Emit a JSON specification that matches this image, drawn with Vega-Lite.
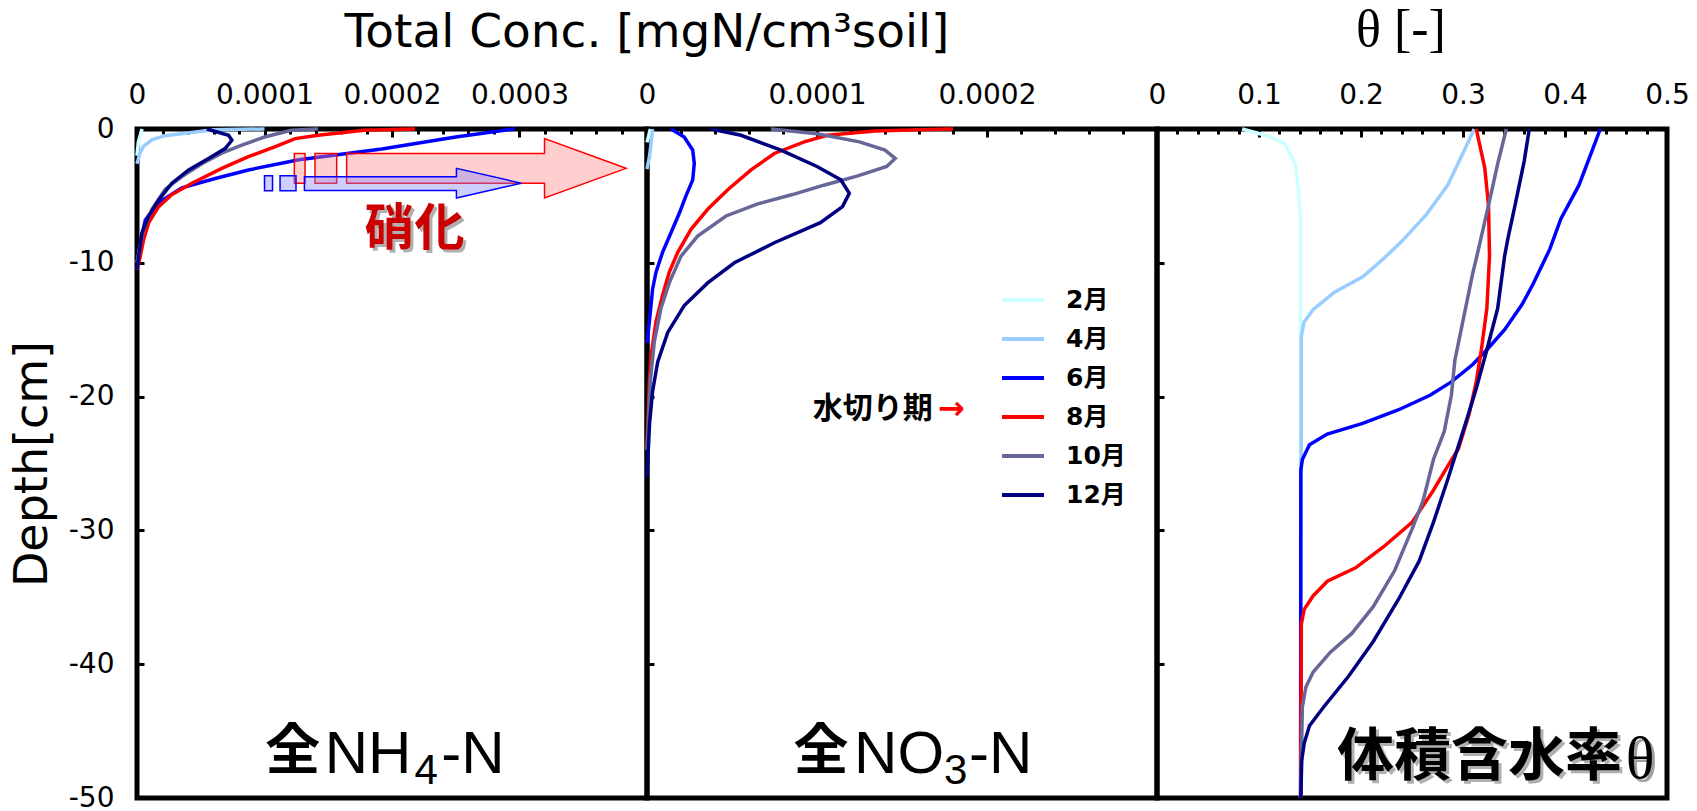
{
  "$schema": "https://vega.github.io/schema/vega-lite/v6.json",
  "background": "white",
  "padding": {"left": 6, "top": 1, "right": 5, "bottom": 0},
  "spacing": 0,
  "bounds": "flush",
  "config": {
    "view": {"stroke": "black", "strokeWidth": 5},
    "axis": {"grid": false, "domain": false, "tickColor": "black", "tickWidth": 3, "labelColor": "black", "labelFont": "DejaVu Sans", "labelFontSize": 28, "labelFlush": false, "labelOverlap": false, "titleColor": "black"},
    "title": {"color": "black", "fontWeight": "normal"}
  },
  "datasets": {
    "nh4": [
      {"month": "2月", "depth": 0, "conc": 0.000004}, {"month": "2月", "depth": -1, "conc": 0.000001}, {"month": "2月", "depth": -2, "conc": 0},
      {"month": "4月", "depth": 0, "conc": 0.0001}, {"month": "4月", "depth": -0.05, "conc": 0.00006}, {"month": "4月", "depth": -0.35, "conc": 0.000035}, {"month": "4月", "depth": -0.5, "conc": 0.000022}, {"month": "4月", "depth": -0.8, "conc": 0.000012}, {"month": "4月", "depth": -1.3, "conc": 0.000005}, {"month": "4月", "depth": -1.8, "conc": 0.0000023}, {"month": "4月", "depth": -2.6, "conc": 0},
      {"month": "6月", "depth": 0, "conc": 0.000296}, {"month": "6月", "depth": -0.6, "conc": 0.00025}, {"month": "6月", "depth": -1.5, "conc": 0.000192}, {"month": "6月", "depth": -2.3, "conc": 0.000127}, {"month": "6月", "depth": -3.06, "conc": 0.0000874}, {"month": "6月", "depth": -3.7, "conc": 0.0000613}, {"month": "6月", "depth": -4.4, "conc": 0.0000352}, {"month": "6月", "depth": -5.5, "conc": 0.000017}, {"month": "6月", "depth": -6.8, "conc": 0.0000065}, {"month": "6月", "depth": -8.5, "conc": 0.0000026}, {"month": "6月", "depth": -10, "conc": 0},
      {"month": "8月", "depth": 0, "conc": 0.000218}, {"month": "8月", "depth": -0.1, "conc": 0.000178}, {"month": "8月", "depth": -0.47, "conc": 0.000142}, {"month": "8月", "depth": -0.72, "conc": 0.000124}, {"month": "8月", "depth": -1.33, "conc": 0.000108}, {"month": "8月", "depth": -2.07, "conc": 0.0000874}, {"month": "8月", "depth": -2.94, "conc": 0.0000665}, {"month": "8月", "depth": -4.05, "conc": 0.0000431}, {"month": "8月", "depth": -4.9, "conc": 0.0000274}, {"month": "8月", "depth": -5.8, "conc": 0.000017}, {"month": "8月", "depth": -7.0, "conc": 0.0000092}, {"month": "8月", "depth": -8.25, "conc": 0.0000052}, {"month": "8月", "depth": -9.5, "conc": 0.0000026}, {"month": "8月", "depth": -10.5, "conc": 0},
      {"month": "10月", "depth": 0, "conc": 0.000142}, {"month": "10月", "depth": -0.1, "conc": 0.000121}, {"month": "10月", "depth": -0.6, "conc": 0.0001}, {"month": "10月", "depth": -1.2, "conc": 0.0000822}, {"month": "10月", "depth": -1.8, "conc": 0.0000665}, {"month": "10月", "depth": -2.6, "conc": 0.0000509}, {"month": "10月", "depth": -3.55, "conc": 0.0000352}, {"month": "10月", "depth": -4.5, "conc": 0.0000222}, {"month": "10月", "depth": -6.0, "conc": 0.0000117}, {"month": "10月", "depth": -7.5, "conc": 0.0000052}, {"month": "10月", "depth": -9, "conc": 0.0000018}, {"month": "10月", "depth": -10, "conc": 0},
      {"month": "12月", "depth": 0, "conc": 0.0000548}, {"month": "12月", "depth": -0.47, "conc": 0.0000718}, {"month": "12月", "depth": -0.84, "conc": 0.0000744}, {"month": "12月", "depth": -1.46, "conc": 0.0000691}, {"month": "12月", "depth": -2.2, "conc": 0.0000561}, {"month": "12月", "depth": -3.06, "conc": 0.0000405}, {"month": "12月", "depth": -4.05, "conc": 0.0000274}, {"month": "12月", "depth": -5.3, "conc": 0.000017}, {"month": "12月", "depth": -6.5, "conc": 0.0000092}, {"month": "12月", "depth": -7.75, "conc": 0.0000039}, {"month": "12月", "depth": -9.5, "conc": 0.0000013}, {"month": "12月", "depth": -10.5, "conc": 0}
    ],
    "no3": [
      {"month": "2月", "depth": 0, "conc": 0.000002}, {"month": "2月", "depth": -1, "conc": 0},
      {"month": "4月", "depth": 0, "conc": 0.0000033}, {"month": "4月", "depth": -1, "conc": 0.0000025}, {"month": "4月", "depth": -2.1, "conc": 0.0000014}, {"month": "4月", "depth": -3, "conc": 0},
      {"month": "6月", "depth": 0, "conc": 0.0000141}, {"month": "6月", "depth": -0.6, "conc": 0.0000219}, {"month": "6月", "depth": -1.58, "conc": 0.0000269}, {"month": "6月", "depth": -2.57, "conc": 0.0000278}, {"month": "6月", "depth": -3.8, "conc": 0.0000269}, {"month": "6月", "depth": -5.0, "conc": 0.0000229}, {"month": "6月", "depth": -6.3, "conc": 0.000019}, {"month": "6月", "depth": -7.75, "conc": 0.0000141}, {"month": "6月", "depth": -9.2, "conc": 0.0000092}, {"month": "6月", "depth": -10.7, "conc": 0.0000053}, {"month": "6月", "depth": -11.95, "conc": 0.0000033}, {"month": "6月", "depth": -14.4, "conc": 0.0000014}, {"month": "6月", "depth": -16, "conc": 0},
      {"month": "8月", "depth": 0, "conc": 0.00018}, {"month": "8月", "depth": -0.05, "conc": 0.00016}, {"month": "8月", "depth": -0.15, "conc": 0.000134}, {"month": "8月", "depth": -0.47, "conc": 0.000106}, {"month": "8月", "depth": -0.96, "conc": 0.0000925}, {"month": "8月", "depth": -1.83, "conc": 0.0000749}, {"month": "8月", "depth": -3.06, "conc": 0.0000612}, {"month": "8月", "depth": -4.54, "conc": 0.0000475}, {"month": "8月", "depth": -6.0, "conc": 0.0000357}, {"month": "8月", "depth": -7.5, "conc": 0.0000259}, {"month": "8月", "depth": -9.24, "conc": 0.000018}, {"month": "8月", "depth": -10.7, "conc": 0.0000131}, {"month": "8月", "depth": -12.4, "conc": 0.0000092}, {"month": "8月", "depth": -14.4, "conc": 0.0000053}, {"month": "8月", "depth": -16.9, "conc": 0.0000024}, {"month": "8月", "depth": -18.9, "conc": 0.0000014}, {"month": "8月", "depth": -22, "conc": 0.0000005}, {"month": "8月", "depth": -24, "conc": 0},
      {"month": "10月", "depth": 0, "conc": 0.0000729}, {"month": "10月", "depth": -0.35, "conc": 0.0001}, {"month": "10月", "depth": -0.96, "conc": 0.000125}, {"month": "10月", "depth": -1.58, "conc": 0.00014}, {"month": "10月", "depth": -2.2, "conc": 0.000146}, {"month": "10月", "depth": -2.8, "conc": 0.000141}, {"month": "10月", "depth": -3.5, "conc": 0.000124}, {"month": "10月", "depth": -4.2, "conc": 0.000104}, {"month": "10月", "depth": -4.9, "conc": 0.0000856}, {"month": "10月", "depth": -5.6, "conc": 0.0000651}, {"month": "10月", "depth": -6.5, "conc": 0.0000465}, {"month": "10月", "depth": -8.0, "conc": 0.0000298}, {"month": "10月", "depth": -9.5, "conc": 0.00002}, {"month": "10月", "depth": -11.5, "conc": 0.0000131}, {"month": "10月", "depth": -13.4, "conc": 0.0000082}, {"month": "10月", "depth": -15.9, "conc": 0.0000043}, {"month": "10月", "depth": -18.9, "conc": 0.0000019}, {"month": "10月", "depth": -22, "conc": 0.0000008}, {"month": "10月", "depth": -24, "conc": 0},
      {"month": "12月", "depth": 0, "conc": 0.0000376}, {"month": "12月", "depth": -0.47, "conc": 0.0000553}, {"month": "12月", "depth": -1.58, "conc": 0.0000788}, {"month": "12月", "depth": -2.8, "conc": 0.0001}, {"month": "12月", "depth": -3.8, "conc": 0.000114}, {"month": "12月", "depth": -4.8, "conc": 0.000119}, {"month": "12月", "depth": -5.8, "conc": 0.000115}, {"month": "12月", "depth": -7.0, "conc": 0.000102}, {"month": "12月", "depth": -8.5, "conc": 0.0000749}, {"month": "12月", "depth": -10.0, "conc": 0.0000514}, {"month": "12月", "depth": -11.5, "conc": 0.0000357}, {"month": "12月", "depth": -13.2, "conc": 0.0000219}, {"month": "12月", "depth": -15.2, "conc": 0.0000122}, {"month": "12月", "depth": -17.4, "conc": 0.0000063}, {"month": "12月", "depth": -19.6, "conc": 0.0000033}, {"month": "12月", "depth": -22, "conc": 0.0000015}, {"month": "12月", "depth": -26, "conc": 0}
    ],
    "theta": [
      {"month": "2月", "depth": 0, "theta": 0.0835}, {"month": "2月", "depth": -0.5, "theta": 0.108}, {"month": "2月", "depth": -1.1, "theta": 0.125}, {"month": "2月", "depth": -2.6, "theta": 0.1356}, {"month": "2月", "depth": -4.7, "theta": 0.139}, {"month": "2月", "depth": -6.7, "theta": 0.1405}, {"month": "2月", "depth": -50, "theta": 0.1408},
      {"month": "4月", "depth": 0, "theta": 0.311}, {"month": "4月", "depth": -1.4, "theta": 0.3025}, {"month": "4月", "depth": -4.2, "theta": 0.285}, {"month": "4月", "depth": -6.4, "theta": 0.264}, {"month": "4月", "depth": -8.4, "theta": 0.24}, {"month": "4月", "depth": -9.7, "theta": 0.222}, {"month": "4月", "depth": -11.05, "theta": 0.2017}, {"month": "4月", "depth": -12.2, "theta": 0.174}, {"month": "4月", "depth": -13.5, "theta": 0.153}, {"month": "4月", "depth": -14.45, "theta": 0.144}, {"month": "4月", "depth": -15.5, "theta": 0.1415}, {"month": "4月", "depth": -50, "theta": 0.1408},
      {"month": "6月", "depth": 0, "theta": 0.4346}, {"month": "6月", "depth": -1.4, "theta": 0.4277}, {"month": "6月", "depth": -4.2, "theta": 0.4137}, {"month": "6月", "depth": -6.7, "theta": 0.396}, {"month": "6月", "depth": -9.0, "theta": 0.385}, {"month": "6月", "depth": -11.6, "theta": 0.3686}, {"month": "6月", "depth": -13.1, "theta": 0.358}, {"month": "6月", "depth": -15.0, "theta": 0.3408}, {"month": "6月", "depth": -16.5, "theta": 0.3234}, {"month": "6月", "depth": -17.6, "theta": 0.3095}, {"month": "6月", "depth": -18.9, "theta": 0.2886}, {"month": "6月", "depth": -19.9, "theta": 0.2677}, {"month": "6月", "depth": -21.0, "theta": 0.2364}, {"month": "6月", "depth": -22.0, "theta": 0.2017}, {"month": "6月", "depth": -22.8, "theta": 0.1669}, {"month": "6月", "depth": -23.6, "theta": 0.1495}, {"month": "6月", "depth": -24.7, "theta": 0.1425}, {"month": "6月", "depth": -25.5, "theta": 0.141}, {"month": "6月", "depth": -50, "theta": 0.1408},
      {"month": "8月", "depth": 0, "theta": 0.313}, {"month": "8月", "depth": -2.9, "theta": 0.3213}, {"month": "8月", "depth": -5.7, "theta": 0.325}, {"month": "8月", "depth": -9.5, "theta": 0.326}, {"month": "8月", "depth": -13.4, "theta": 0.3234}, {"month": "8月", "depth": -16.5, "theta": 0.318}, {"month": "8月", "depth": -18.9, "theta": 0.313}, {"month": "8月", "depth": -21.3, "theta": 0.306}, {"month": "8月", "depth": -23.9, "theta": 0.2955}, {"month": "8月", "depth": -25.2, "theta": 0.285}, {"month": "8月", "depth": -27.0, "theta": 0.271}, {"month": "8月", "depth": -29.4, "theta": 0.25}, {"month": "8月", "depth": -31.2, "theta": 0.2225}, {"month": "8月", "depth": -32.8, "theta": 0.1947}, {"month": "8月", "depth": -33.8, "theta": 0.167}, {"month": "8月", "depth": -34.9, "theta": 0.153}, {"month": "8月", "depth": -35.9, "theta": 0.1443}, {"month": "8月", "depth": -37.0, "theta": 0.1415}, {"month": "8月", "depth": -50, "theta": 0.1408},
      {"month": "10月", "depth": 0, "theta": 0.3425}, {"month": "10月", "depth": -2.6, "theta": 0.334}, {"month": "10月", "depth": -5.7, "theta": 0.325}, {"month": "10月", "depth": -9.7, "theta": 0.313}, {"month": "10月", "depth": -10.8, "theta": 0.3095}, {"month": "10月", "depth": -14.7, "theta": 0.299}, {"month": "10月", "depth": -17.3, "theta": 0.292}, {"month": "10月", "depth": -19.9, "theta": 0.2886}, {"month": "10月", "depth": -22.6, "theta": 0.2816}, {"month": "10月", "depth": -24.7, "theta": 0.271}, {"month": "10月", "depth": -27.8, "theta": 0.2608}, {"month": "10月", "depth": -29.9, "theta": 0.25}, {"month": "10月", "depth": -33.0, "theta": 0.233}, {"month": "10月", "depth": -35.7, "theta": 0.212}, {"month": "10月", "depth": -37.7, "theta": 0.191}, {"month": "10月", "depth": -39.1, "theta": 0.17}, {"month": "10月", "depth": -40.6, "theta": 0.153}, {"month": "10月", "depth": -41.7, "theta": 0.146}, {"month": "10月", "depth": -43.2, "theta": 0.1425}, {"month": "10月", "depth": -50, "theta": 0.1408},
      {"month": "12月", "depth": 0, "theta": 0.365}, {"month": "12月", "depth": -2.4, "theta": 0.36}, {"month": "12月", "depth": -5.7, "theta": 0.351}, {"month": "12月", "depth": -8.2, "theta": 0.344}, {"month": "12月", "depth": -9.5, "theta": 0.3408}, {"month": "12月", "depth": -13.4, "theta": 0.334}, {"month": "12月", "depth": -16.5, "theta": 0.3234}, {"month": "12月", "depth": -19.4, "theta": 0.313}, {"month": "12月", "depth": -22.0, "theta": 0.3025}, {"month": "12月", "depth": -26.2, "theta": 0.285}, {"month": "12月", "depth": -29.4, "theta": 0.271}, {"month": "12月", "depth": -32.3, "theta": 0.257}, {"month": "12月", "depth": -35.2, "theta": 0.2364}, {"month": "12月", "depth": -38.3, "theta": 0.212}, {"month": "12月", "depth": -40.9, "theta": 0.1878}, {"month": "12月", "depth": -43.2, "theta": 0.1634}, {"month": "12月", "depth": -44.6, "theta": 0.1495}, {"month": "12月", "depth": -45.9, "theta": 0.1443}, {"month": "12月", "depth": -47.2, "theta": 0.1419}, {"month": "12月", "depth": -50, "theta": 0.141}
    ]
  },
  "resolve": {"scale": {"color": "independent"}, "legend": {"color": "independent"}},
  "hconcat": [
    {
      "width": 510, "height": 669,
      "title": {"text": "Total Conc. [mgN/cm³soil]", "anchor": "end", "align": "center", "font": "DejaVu Sans", "fontSize": 47, "offset": 24},
      "resolve": {"axis": {"x": "independent", "y": "independent"}},
      "layer": [
        {
          "data": {"name": "nh4"},
          "mark": {"type": "line", "strokeWidth": 3.5},
          "encoding": {
            "x": {"field": "conc", "type": "quantitative", "scale": {"domain": [0, 0.0004], "nice": false, "zero": false}, "axis": {"orient": "top", "values": [0, 0.0001, 0.0002, 0.0003], "labelExpr": "'' + datum.value", "tickSize": -8, "labelPadding": 28, "title": null}},
            "y": {"field": "depth", "type": "quantitative", "scale": {"domain": [-50, 0], "nice": false}, "axis": {"values": [0, -10, -20, -30, -40, -50], "labelExpr": "'' + datum.value", "tickSize": -7, "labelPadding": 30, "title": "Depth[cm]", "titleFont": "DejaVu Sans", "titleFontSize": 46, "titleFontWeight": "normal", "titlePadding": 12}},
            "color": {"field": "month", "type": "nominal", "scale": {"domain": ["2月", "4月", "6月", "8月", "10月", "12月"], "range": ["#ccffff", "#99ccff", "#0000ff", "#ff0000", "#666699", "#000080"]}, "legend": null},
            "order": {"field": "depth", "type": "quantitative"}
          }
        },
        {
          "data": {"values": [{"conc": 0.0001644, "depth": -1.83, "depth2": -4.05}, {"conc": 0.0003196, "depth": -1.83, "depth2": -4.05}, {"conc": 0.00031965, "depth": -0.72, "depth2": -5.16}, {"conc": 0.0003836, "depth": -2.94, "depth2": -2.94}]},
          "mark": {"type": "area", "fill": "#ff8888", "fillOpacity": 0.4, "stroke": "#ff0000", "strokeWidth": 1.5},
          "encoding": {
            "x": {"field": "conc", "type": "quantitative", "axis": {"orient": "top", "values": [0.00002, 0.00004, 0.00006, 0.00008, 0.00012, 0.00014, 0.00016, 0.00018, 0.00022, 0.00024, 0.00026, 0.00028, 0.00032, 0.00034, 0.00036, 0.00038], "labels": false, "tickSize": -5, "title": null}},
            "y": {"field": "depth", "type": "quantitative", "axis": null},
            "y2": {"field": "depth2"}
          }
        },
        {
          "data": {"values": [{"conc": 0.0001234, "conc2": 0.0001318, "depth": -1.83, "depth2": -4.05}, {"conc": 0.0001396, "conc2": 0.0001566, "depth": -1.83, "depth2": -4.05}]},
          "mark": {"type": "rect", "fill": "#ff8888", "fillOpacity": 0.4, "stroke": "#ff0000", "strokeWidth": 1.5},
          "encoding": {
            "x": {"field": "conc", "type": "quantitative", "axis": null}, "x2": {"field": "conc2"},
            "y": {"field": "depth", "type": "quantitative", "axis": null}, "y2": {"field": "depth2"}
          }
        },
        {
          "data": {"values": [{"conc": 0.0001313, "depth": -3.56, "depth2": -4.59}, {"conc": 0.0002505, "depth": -3.56, "depth2": -4.59}, {"conc": 0.00025055, "depth": -2.94, "depth2": -5.16}, {"conc": 0.0003014, "depth": -4.05, "depth2": -4.05}]},
          "mark": {"type": "area", "fill": "#8888ff", "fillOpacity": 0.4, "stroke": "#0000ff", "strokeWidth": 1.5},
          "encoding": {
            "x": {"field": "conc", "type": "quantitative", "axis": null},
            "y": {"field": "depth", "type": "quantitative", "axis": null},
            "y2": {"field": "depth2"}
          }
        },
        {
          "data": {"values": [{"conc": 0.0001, "conc2": 0.0001063, "depth": -3.5, "depth2": -4.61}, {"conc": 0.0001122, "conc2": 0.0001247, "depth": -3.5, "depth2": -4.61}]},
          "mark": {"type": "rect", "fill": "#8888ff", "fillOpacity": 0.4, "stroke": "#0000ff", "strokeWidth": 1.5},
          "encoding": {
            "x": {"field": "conc", "type": "quantitative", "axis": null}, "x2": {"field": "conc2"},
            "y": {"field": "depth", "type": "quantitative", "axis": null}, "y2": {"field": "depth2"}
          }
        },
        {
          "data": {"values": [{"label": "硝化", "conc": 0.0002176, "depth": -7.56}]},
          "mark": {"type": "text", "font": "Noto Sans CJK JP", "fontWeight": "bold", "fontSize": 50, "color": "#b0b0b0", "align": "center", "baseline": "middle", "dx": 3, "dy": 3},
          "encoding": {"x": {"field": "conc", "type": "quantitative", "axis": null}, "y": {"field": "depth", "type": "quantitative", "axis": null}, "text": {"field": "label"}}
        },
        {
          "data": {"values": [{"label": "硝化", "conc": 0.0002176, "depth": -7.56}]},
          "mark": {"type": "text", "font": "Noto Sans CJK JP", "fontWeight": "bold", "fontSize": 50, "color": "#cc0000", "align": "center", "baseline": "middle"},
          "encoding": {"x": {"field": "conc", "type": "quantitative", "axis": null}, "y": {"field": "depth", "type": "quantitative", "axis": null}, "text": {"field": "label"}}
        },
        {
          "data": {"values": [{"label": "全", "conc": 0.0001221, "depth": -47.85}]},
          "mark": {"type": "text", "font": "Noto Sans CJK JP", "fontWeight": "bold", "fontSize": 55, "color": "black", "align": "center", "baseline": "alphabetic"},
          "encoding": {"x": {"field": "conc", "type": "quantitative", "axis": null}, "y": {"field": "depth", "type": "quantitative", "axis": null}, "text": {"field": "label"}}
        },
        {
          "data": {"values": [{"label": "NH", "conc": 0.0001472, "depth": -48.15}, {"label": "-N", "conc": 0.0002387, "depth": -48.15}]},
          "mark": {"type": "text", "font": "Liberation Sans", "fontSize": 60, "color": "black", "align": "left", "baseline": "alphabetic"},
          "encoding": {"x": {"field": "conc", "type": "quantitative", "axis": null}, "y": {"field": "depth", "type": "quantitative", "axis": null}, "text": {"field": "label"}}
        },
        {
          "data": {"values": [{"label": "4", "conc": 0.0002176, "depth": -48.96}]},
          "mark": {"type": "text", "font": "Liberation Sans", "fontSize": 42, "color": "black", "align": "left", "baseline": "alphabetic"},
          "encoding": {"x": {"field": "conc", "type": "quantitative", "axis": null}, "y": {"field": "depth", "type": "quantitative", "axis": null}, "text": {"field": "label"}}
        }
      ]
    },
    {
      "width": 510, "height": 669,
      "resolve": {"axis": {"x": "independent", "y": "independent"}},
      "layer": [
        {
          "data": {"name": "no3"},
          "mark": {"type": "line", "strokeWidth": 3.5},
          "encoding": {
            "x": {"field": "conc", "type": "quantitative", "scale": {"domain": [0, 0.0003], "nice": false, "zero": false}, "axis": {"orient": "top", "values": [0, 0.0001, 0.0002], "labelExpr": "'' + datum.value", "tickSize": -8, "labelPadding": 28, "title": null}},
            "y": {"field": "depth", "type": "quantitative", "scale": {"domain": [-50, 0], "nice": false}, "axis": {"values": [-10, -20, -30, -40], "labels": false, "tickSize": -7, "title": null}},
            "color": {"field": "month", "type": "nominal", "scale": {"domain": ["2月", "4月", "6月", "8月", "10月", "12月"], "range": ["#ccffff", "#99ccff", "#0000ff", "#ff0000", "#666699", "#000080"]}, "legend": {"orient": "none", "legendX": 353, "legendY": 159, "title": null, "symbolType": "stroke", "symbolSize": 1764, "symbolStrokeWidth": 4, "labelFont": "DejaVu Sans, Noto Sans CJK JP", "labelFontSize": 25, "labelFontWeight": "bold", "labelColor": "black", "labelOffset": 20, "rowPadding": 14, "clipHeight": 24, "padding": 0}},
            "order": {"field": "depth", "type": "quantitative"}
          }
        },
        {
          "data": {"values": [{"label": "水切り期", "conc": 0.0000975, "depth": -20.96}]},
          "mark": {"type": "text", "font": "Noto Sans CJK JP", "fontWeight": "bold", "fontSize": 30, "color": "black", "align": "left", "baseline": "middle"},
          "encoding": {
            "x": {"field": "conc", "type": "quantitative", "axis": {"orient": "top", "values": [0.00002, 0.00004, 0.00006, 0.00008, 0.00012, 0.00014, 0.00016, 0.00018, 0.00022, 0.00024, 0.00026, 0.00028], "labels": false, "tickSize": -5, "title": null}},
            "y": {"field": "depth", "type": "quantitative", "axis": null},
            "text": {"field": "label"}
          }
        },
        {
          "data": {"values": [{"label": "→", "conc": 0.0001712, "depth": -20.96}]},
          "mark": {"type": "text", "font": "DejaVu Sans", "fontWeight": "bold", "fontSize": 32, "color": "#ff0000", "align": "left", "baseline": "middle"},
          "encoding": {"x": {"field": "conc", "type": "quantitative", "axis": null}, "y": {"field": "depth", "type": "quantitative", "axis": null}, "text": {"field": "label"}}
        },
        {
          "data": {"values": [{"label": "全", "conc": 0.0001024, "depth": -47.85}]},
          "mark": {"type": "text", "font": "Noto Sans CJK JP", "fontWeight": "bold", "fontSize": 55, "color": "black", "align": "center", "baseline": "alphabetic"},
          "encoding": {"x": {"field": "conc", "type": "quantitative", "axis": null}, "y": {"field": "depth", "type": "quantitative", "axis": null}, "text": {"field": "label"}}
        },
        {
          "data": {"values": [{"label": "NO", "conc": 0.0001218, "depth": -48.15}, {"label": "-N", "conc": 0.0001894, "depth": -48.15}]},
          "mark": {"type": "text", "font": "Liberation Sans", "fontSize": 60, "color": "black", "align": "left", "baseline": "alphabetic"},
          "encoding": {"x": {"field": "conc", "type": "quantitative", "axis": null}, "y": {"field": "depth", "type": "quantitative", "axis": null}, "text": {"field": "label"}}
        },
        {
          "data": {"values": [{"label": "3", "conc": 0.0001747, "depth": -48.96}]},
          "mark": {"type": "text", "font": "Liberation Sans", "fontSize": 42, "color": "black", "align": "left", "baseline": "alphabetic"},
          "encoding": {"x": {"field": "conc", "type": "quantitative", "axis": null}, "y": {"field": "depth", "type": "quantitative", "axis": null}, "text": {"field": "label"}}
        }
      ]
    },
    {
      "width": 510, "height": 669,
      "title": {"text": "θ [-]", "font": "Liberation Serif", "fontSize": 52, "offset": 24, "dx": -11},
      "resolve": {"axis": {"x": "independent", "y": "independent"}},
      "layer": [
        {
          "data": {"name": "theta"},
          "mark": {"type": "line", "strokeWidth": 3.5},
          "encoding": {
            "x": {"field": "theta", "type": "quantitative", "scale": {"domain": [0, 0.5], "nice": false, "zero": false}, "axis": {"orient": "top", "values": [0, 0.1, 0.2, 0.3, 0.4, 0.5], "labelExpr": "'' + datum.value", "tickSize": -8, "labelPadding": 28, "title": null}},
            "y": {"field": "depth", "type": "quantitative", "scale": {"domain": [-50, 0], "nice": false}, "axis": {"values": [-10, -20, -30, -40], "labels": false, "tickSize": -7, "title": null}},
            "color": {"field": "month", "type": "nominal", "scale": {"domain": ["2月", "4月", "6月", "8月", "10月", "12月"], "range": ["#ccffff", "#99ccff", "#0000ff", "#ff0000", "#666699", "#000080"]}, "legend": null},
            "order": {"field": "depth", "type": "quantitative"}
          }
        },
        {
          "data": {"values": [{"label": "体積含水率", "theta": 0.1765, "depth": -48.3}]},
          "mark": {"type": "text", "font": "Noto Sans CJK JP", "fontWeight": "bold", "fontSize": 57, "color": "#b0b0b0", "align": "left", "baseline": "alphabetic", "dx": 3, "dy": 3},
          "encoding": {
            "x": {"field": "theta", "type": "quantitative", "axis": {"orient": "top", "values": [0.02, 0.04, 0.06, 0.08, 0.12, 0.14, 0.16, 0.18, 0.22, 0.24, 0.26, 0.28, 0.32, 0.34, 0.36, 0.38, 0.42, 0.44, 0.46, 0.48], "labels": false, "tickSize": -5, "title": null}},
            "y": {"field": "depth", "type": "quantitative", "axis": null},
            "text": {"field": "label"}
          }
        },
        {
          "data": {"values": [{"label": "体積含水率", "theta": 0.1765, "depth": -48.3}]},
          "mark": {"type": "text", "font": "Noto Sans CJK JP", "fontWeight": "bold", "fontSize": 57, "color": "black", "align": "left", "baseline": "alphabetic"},
          "encoding": {"x": {"field": "theta", "type": "quantitative", "axis": null}, "y": {"field": "depth", "type": "quantitative", "axis": null}, "text": {"field": "label"}}
        },
        {
          "data": {"values": [{"label": "θ", "theta": 0.4596, "depth": -48.5}]},
          "mark": {"type": "text", "font": "Liberation Serif", "fontSize": 60, "color": "#a0a0a0", "align": "left", "baseline": "alphabetic", "dx": 3, "dy": 3},
          "encoding": {"x": {"field": "theta", "type": "quantitative", "axis": null}, "y": {"field": "depth", "type": "quantitative", "axis": null}, "text": {"field": "label"}}
        },
        {
          "data": {"values": [{"label": "θ", "theta": 0.4596, "depth": -48.5}]},
          "mark": {"type": "text", "font": "Liberation Serif", "fontSize": 60, "color": "black", "align": "left", "baseline": "alphabetic"},
          "encoding": {"x": {"field": "theta", "type": "quantitative", "axis": null}, "y": {"field": "depth", "type": "quantitative", "axis": null}, "text": {"field": "label"}}
        }
      ]
    }
  ]
}
